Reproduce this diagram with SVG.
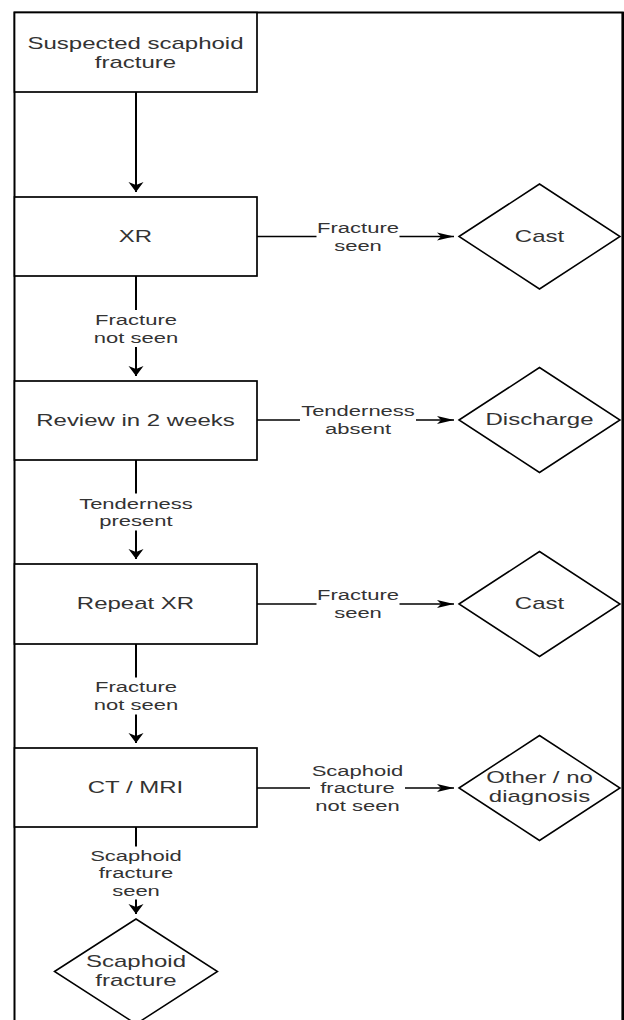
<svg xmlns="http://www.w3.org/2000/svg" width="624" height="1020" viewBox="0 0 624 1020">
<defs>
<style>
.box{fill:#fff;stroke:#000;stroke-width:1.7}
.dia{fill:#fff;stroke:#000;stroke-width:1.5}
.t{font-family:"Liberation Sans",Arial,sans-serif;font-size:16px;fill:#333;text-anchor:middle}
.l{font-family:"Liberation Sans",Arial,sans-serif;font-size:14.67px;fill:#333;text-anchor:middle}
.cv{fill:none;stroke:#000;stroke-width:2;marker-end:url(#arrV)}
.ch{fill:none;stroke:#000;stroke-width:1.4;marker-end:url(#arrH)}
.bg{fill:#fff}
</style>
<marker id="arrV" markerUnits="userSpaceOnUse" orient="auto" refX="5" refY="0" markerWidth="20" markerHeight="20" overflow="visible">
<path d="M-5,-7.5 L5,0 L-5,7.5 L-2,0 Z" fill="#000"/>
</marker>
<marker id="arrH" markerUnits="userSpaceOnUse" orient="auto" refX="5" refY="0" markerWidth="20" markerHeight="20" overflow="visible">
<path d="M-12,-4 L5,0 L-12,4 L-8,0 Z" fill="#000"/>
</marker>
</defs>
<rect width="624" height="1020" fill="#fff"/>
<path d="M14.5,1020 V12.5 H622.8 V1020" fill="none" stroke="#000" stroke-width="2"/>
<line x1="622.8" y1="12" x2="622.8" y2="1020" stroke="#000" stroke-width="2.6"/>

<g id="connectors">
<path class="cv" d="M136,92 V192"/>
<path class="cv" d="M136,276 V376"/>
<path class="cv" d="M136,460 V559"/>
<path class="cv" d="M136,644 V743"/>
<path class="cv" d="M136,827 V914"/>
<path class="ch" d="M257,236.5 H454"/>
<path class="ch" d="M257,420 H454"/>
<path class="ch" d="M257,604 H454"/>
<path class="ch" d="M257,788 H454"/>
<rect class="bg" x="92" y="310" width="88" height="37"/>
<text class="l" transform="translate(136,0) scale(1.5,1)"><tspan x="0" y="325">Fracture</tspan><tspan x="0" y="342.6">not seen</tspan></text>
<rect class="bg" x="76" y="493.5" width="120" height="37"/>
<text class="l" transform="translate(136,0) scale(1.5,1)"><tspan x="0" y="508.6">Tenderness</tspan><tspan x="0" y="526.2">present</tspan></text>
<rect class="bg" x="92" y="677.5" width="88" height="37"/>
<text class="l" transform="translate(136,0) scale(1.5,1)"><tspan x="0" y="692.4">Fracture</tspan><tspan x="0" y="710">not seen</tspan></text>
<rect class="bg" x="88" y="846.5" width="96" height="53"/>
<text class="l" transform="translate(136,0) scale(1.5,1)"><tspan x="0" y="860.6">Scaphoid</tspan><tspan x="0" y="878.2">fracture</tspan><tspan x="0" y="895.8">seen</tspan></text>
<rect class="bg" x="316.5" y="222" width="83" height="32"/>
<text class="l" transform="translate(358,0) scale(1.5,1)"><tspan x="0" y="233">Fracture</tspan><tspan x="0" y="250.6">seen</tspan></text>
<rect class="bg" x="300" y="405" width="116" height="32"/>
<text class="l" transform="translate(358,0) scale(1.5,1)"><tspan x="0" y="416.4">Tenderness</tspan><tspan x="0" y="434">absent</tspan></text>
<rect class="bg" x="316.5" y="589" width="83" height="32"/>
<text class="l" transform="translate(358,0) scale(1.5,1)"><tspan x="0" y="600.4">Fracture</tspan><tspan x="0" y="618">seen</tspan></text>
<rect class="bg" x="310" y="764" width="95" height="50"/>
<text class="l" transform="translate(357.5,0) scale(1.5,1)"><tspan x="0" y="775.6">Scaphoid</tspan><tspan x="0" y="793.2">fracture</tspan><tspan x="0" y="810.8">not seen</tspan></text>
</g>

<g id="n-suspected">
<rect class="box" x="14.5" y="12.5" width="242.5" height="79.5"/>
<text class="t" transform="translate(135.5,0) scale(1.5,1)"><tspan x="0" y="49">Suspected scaphoid</tspan><tspan x="0" y="68">fracture</tspan></text>
</g>
<g id="n-xr">
<rect class="box" x="14.5" y="197" width="242.5" height="79"/>
<text class="t" transform="translate(135.5,0) scale(1.5,1)" x="0" y="242">XR</text>
</g>
<g id="n-review">
<rect class="box" x="14.5" y="381" width="242.5" height="79"/>
<text class="t" transform="translate(135.5,0) scale(1.5,1)" x="0" y="426">Review in 2 weeks</text>
</g>
<g id="n-repeat">
<rect class="box" x="14.5" y="564" width="242.5" height="80"/>
<text class="t" transform="translate(135.5,0) scale(1.5,1)" x="0" y="609.5">Repeat XR</text>
</g>
<g id="n-ctmri">
<rect class="box" x="14.5" y="748" width="242.5" height="79"/>
<text class="t" transform="translate(135.5,0) scale(1.5,1)" x="0" y="793">CT / MRI</text>
</g>
<g id="d-cast1">
<polygon class="dia" points="459,236.5 539.5,184 620,236.5 539.5,289"/>
<text class="t" transform="translate(539.5,0) scale(1.5,1)" x="0" y="242">Cast</text>
</g>
<g id="d-discharge">
<polygon class="dia" points="459,420 539.5,367.5 620,420 539.5,472.5"/>
<text class="t" transform="translate(539.5,0) scale(1.5,1)" x="0" y="425.5">Discharge</text>
</g>
<g id="d-cast2">
<polygon class="dia" points="459,604 539.5,551.5 620,604 539.5,656.5"/>
<text class="t" transform="translate(539.5,0) scale(1.5,1)" x="0" y="609.5">Cast</text>
</g>
<g id="d-other">
<polygon class="dia" points="459,788 539.5,735.5 620,788 539.5,840.5"/>
<text class="t" transform="translate(539.5,0) scale(1.5,1)"><tspan x="0" y="783.5">Other / no</tspan><tspan x="0" y="802.5">diagnosis</tspan></text>
</g>
<g id="d-scaphoid">
<polygon class="dia" points="54.5,971.5 136,919 217.5,971.5 136,1024"/>
<text class="t" transform="translate(136,0) scale(1.5,1)"><tspan x="0" y="967.5">Scaphoid</tspan><tspan x="0" y="986.5">fracture</tspan></text>
</g>
</svg>
